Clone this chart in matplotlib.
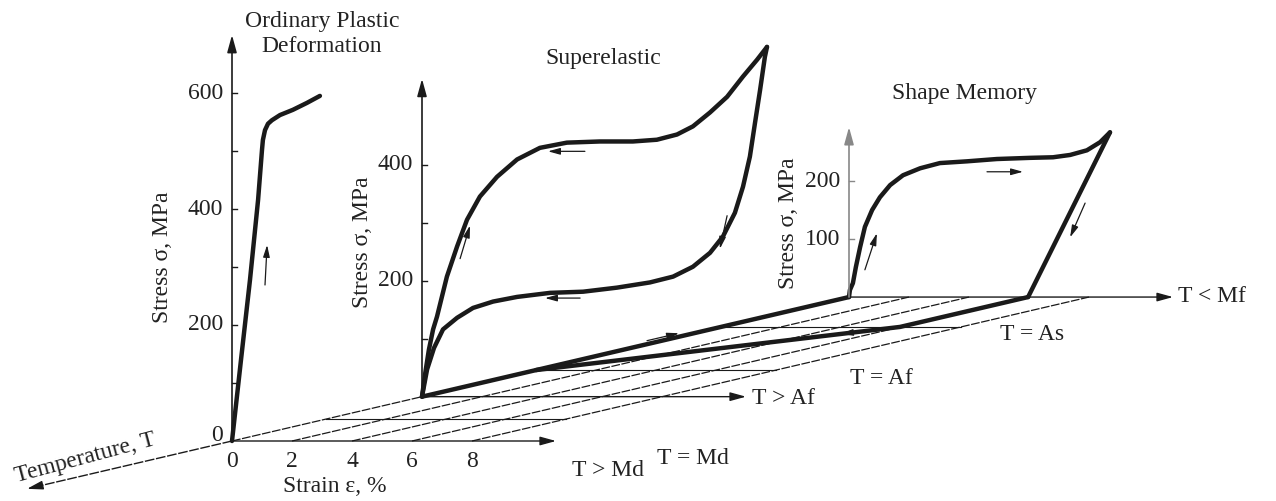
import numpy as np
import matplotlib.pyplot as plt
from matplotlib.transforms import Affine2D

plt.rcParams['font.family'] = ['Liberation Serif', 'DejaVu Serif']

# ---- data: strain (%) and stress (MPa) ----
plastic_strain = [0, 0.3, 0.6, 0.87, 1.0, 1.03, 1.1, 1.2, 1.33, 1.6, 2.03, 2.5, 2.93]
plastic_stress = [0, 140, 278, 416, 502, 519, 536, 547, 553, 562, 571, 583, 595]

se_load_strain = [0, 0.1, 0.23, 0.37, 0.5, 0.83, 1.17, 1.5, 1.93, 2.5, 3.17, 3.93, 4.83, 5.93,
                  7.03, 7.83, 8.5, 9.03, 9.6, 10.17, 10.7, 11.17, 11.5]
se_load_stress = [0, 38, 81, 116, 138, 207, 259, 305, 345, 379, 409, 429, 438, 440,
                  440, 443, 452, 466, 490, 517, 552, 581, 603]
se_unload_strain = [11.5, 11.43, 11.27, 11.1, 10.93, 10.7, 10.43, 10.03, 9.6, 9.03, 8.37, 7.6,
                    6.5, 5.37, 4.27, 3.17, 2.37, 1.7, 1.17, 0.7, 0.4, 0.17, 0]
se_unload_stress = [603, 586, 529, 472, 414, 362, 317, 276, 248, 224, 207, 197,
                    188, 181, 179, 172, 164, 153, 136, 116, 84, 47, 0]

sm_load_strain = [0, 0.03, 0.13, 0.23, 0.37, 0.53, 0.77, 1.03, 1.37, 1.8, 2.37, 3.03, 3.93,
                  4.93, 6.03, 6.8, 7.37, 7.93, 8.37, 8.7]
sm_load_stress = [0, 12, 24, 52, 86, 121, 150, 172, 193, 210, 222, 231, 234,
                  238, 240, 241, 245, 253, 267, 284]
sm_unload_strain = [8.7, 5.97]
sm_unload_stress = [284, 0]

# temperature levels, as depth along the temperature axis
temp_names = ['T > Md', 'T = Md', 'T > Af', 'T = Af', 'T = As', 'T < Mf']
temp_depth = [0, 94, 190, 304, 489, 617]

# strain-temperature paths on the base plane (strain, depth)
cool_strain = [0, 0]
cool_depth = [190, 617]
recover_strain = [5.97, 5.97, 0]
recover_depth = [617, 489, 304]

strain_ticks = [0, 2, 4, 6, 8]
plastic_ticks = [100, 200, 300, 400, 500, 600]
plastic_labels = [0, 200, 400, 600]
se_ticks = [100, 200, 300, 400]
se_labels = [200, 400]
sm_ticks = [100, 200]
sm_labels = [100, 200]

# ---- oblique projection (pixel space) ----
X0, Y0 = 232, 441
SX, SY = 30.0, 0.58
SLOPE = 0.2333

fig = plt.figure(figsize=(12.76, 5.01), dpi=100)
ax = fig.add_axes([0, 0, 1, 1])
ax.set_xlim(0, 1276)
ax.set_ylim(501, 0)
ax.axis('off')


def panel(d):
    return Affine2D().scale(SX, -SY).translate(X0 + d, Y0 - SLOPE * d) + ax.transData


plane = Affine2D(np.array([[SX, 1.0, X0], [0, -SLOPE, Y0], [0, 0, 1]])) + ax.transData

tr_p = panel(temp_depth[0])
tr_se = panel(temp_depth[2])
tr_sm = panel(temp_depth[5])

ink = '#1a1a1a'
tc = '#222222'
FS = 17


def arrow(p0, p1, tr, lw=1.0, ms=12, color=ink):
    ax.annotate('', xy=p1, xytext=p0, xycoords=tr, textcoords=tr,
                arrowprops=dict(arrowstyle='-|>,head_length=0.8,head_width=0.22', lw=lw,
                                color=color, mutation_scale=ms, shrinkA=0, shrinkB=0))


def curve(xs, ys, tr, lw=3.2):
    ax.plot(xs, ys, color=ink, lw=lw, transform=tr,
            solid_capstyle='round', solid_joinstyle='round')


# base plane grid
for s in strain_ticks:
    ax.plot([s, s], [0, temp_depth[-1]], color=ink, lw=0.9, transform=plane, dashes=(7, 1.2))
for d in [temp_depth[1], temp_depth[3], temp_depth[4]]:
    ax.plot([0, 8], [d, d], color=ink, lw=0.8, transform=plane)
ax.plot([0, 0], [0, -190], color=ink, lw=1.0, transform=plane, dashes=(7, 1.2))
arrow((0, -190), (0, -205), plane, lw=1.0, ms=12)

# strain axes at the three panels
for d in [temp_depth[0], temp_depth[2], temp_depth[5]]:
    arrow((0, d), (10.8, d), plane, lw=1.0, ms=12)

# thick paths on the plane
curve(cool_strain, cool_depth, plane)
curve(recover_strain, recover_depth, plane)
arrow((-0.5, 430), (-0.5, 462), plane, lw=0.9, ms=9)
arrow((5.6, 478), (5.0, 459), plane, lw=0.9, ms=9)

# stress axes
arrow((0, 0), (0, 700), tr_p, lw=1.2, ms=13)
arrow((0, 0), (0, 548), tr_se, lw=1.2, ms=13)
arrow((0, 0), (0, 293), tr_sm, lw=1.2, ms=13, color='#888888')

for tr, ticks, labels, col in [(tr_p, plastic_ticks, plastic_labels, ink),
                               (tr_se, se_ticks, se_labels, ink),
                               (tr_sm, sm_ticks, sm_labels, '#888888')]:
    for t in ticks:
        ax.plot([0, 0.17], [t, t], color=col, lw=1.0, transform=tr)
    for t in labels:
        ax.text(-0.3, t + (10 if t == 0 else 0), str(t), transform=tr, ha='right', va='center',
                fontsize=FS, color=tc)

for s in strain_ticks:
    ax.text(s, -36, str(s), transform=tr_p, ha='center', va='center', fontsize=FS, color=tc)

# curves
curve(plastic_strain, plastic_stress, tr_p)
curve(se_load_strain, se_load_stress, tr_se)
curve(se_unload_strain, se_unload_stress, tr_se)
curve(sm_load_strain, sm_load_stress, tr_sm)
curve(sm_unload_strain, sm_unload_stress, tr_sm)

# direction arrows along the curves
arrow((1.1, 269), (1.17, 338), tr_p, lw=0.9, ms=9)
arrow((1.27, 238), (1.6, 295), tr_se, lw=0.9, ms=9)
arrow((5.43, 423), (4.2, 423), tr_se, lw=0.9, ms=9)
arrow((5.27, 170), (4.1, 170), tr_se, lw=0.9, ms=9)
arrow((10.17, 312), (9.93, 255), tr_se, lw=0.9, ms=9)
arrow((0.53, 47), (0.93, 110), tr_sm, lw=0.9, ms=9)
arrow((4.6, 216), (5.8, 216), tr_sm, lw=0.9, ms=9)
arrow((7.87, 162), (7.37, 103), tr_sm, lw=0.9, ms=9)

# texts
ax.text(322, 34, 'Ordinary Plastic\nDeformation', ha='center', va='center', fontsize=FS,
        linespacing=1.2, color=tc)
ax.text(603, 58, 'Superelastic', ha='center', va='center', fontsize=FS, color=tc)
ax.text(965, 93, 'Shape Memory', ha='center', va='center', fontsize=FS, color=tc)
ax.text(162, 257, 'Stress σ, MPa', rotation=90, ha='center', va='center', fontsize=FS, color=tc)
ax.text(362, 242, 'Stress σ, MPa', rotation=90, ha='center', va='center', fontsize=FS, color=tc)
ax.text(788, 223, 'Stress σ, MPa', rotation=90, ha='center', va='center', fontsize=FS, color=tc)
ax.text(85, 458, 'Temperature, T', rotation=15, ha='center', va='center', fontsize=FS, color=tc)
ax.text(335, 487, 'Strain ε, %', ha='center', va='center', fontsize=FS, color=tc)

label_pos = [(572, 470), (657, 458), (752, 398), (850, 378), (1000, 335), (1178, 297)]
for name, (x, y) in zip(temp_names, label_pos):
    ax.text(x, y, name, ha='left', va='center', fontsize=FS, color=tc)

fig.savefig('out.png', dpi=100)
